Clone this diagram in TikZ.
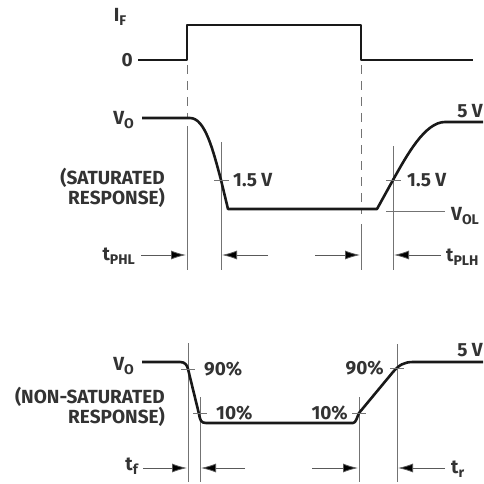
\documentclass[tikz,border=0pt]{standalone}
\usepackage{fontspec}
\setmainfont{Fira Sans}
\usetikzlibrary{arrows.meta}
\newcommand\lowtxt[1]{\raisebox{-0.4ex}{\fontsize{14}{14}\selectfont #1}}

\begin{document}
\begin{tikzpicture}[x=1pt,y=-1pt,line join=round]
	\fontsize{19}{18.5}\selectfont\bfseries
	\def \iftop{25}
	\def \ifzero{60}
	\def \sathigh{118}
	\def \satmid{180}
	\def \satlow{209}
	\def \sattime{255}
	\def \satfloor{270}
	\def \nshigh{362}
	\def \nsninety{369}
	\def \nsten{413}
	\def \nslow{423}
	\def \nstime{468}
	\def \nsfloor{482}

	\tikzstyle{signal}=[draw=black!90,line width=2.6pt]
	\tikzstyle{guide}=[draw=black!55,line width=0.8pt]
	\tikzstyle{edge-dash}=[guide,dash pattern=on 9pt off 7pt]
	\tikzstyle{tick}=[draw=black!55,line width=0.8pt]
	\tikzstyle{timing}=[draw=black!65,line width=0.8pt,-{Latex[length=15pt,width=9pt,fill=black]}]
	\tikzstyle{annot}=[text=black!80,inner sep=1pt]
	\tikzstyle{twoline}=[annot,align=right,anchor=east]

	\useasboundingbox (0,0) rectangle (483,484);

	% input current
	\node[annot] (if-label) at (120,17) {I\lowtxt{F}};
	\node[annot,anchor=east] (if-zero) at (134,\ifzero) {0};
	\coordinate (if-start) at (138,\ifzero);
	\draw[signal] (if-start) -- (187,\ifzero) -- (187,\iftop) -- (361,\iftop) -- (361,\ifzero) -- (473,\ifzero);

	% saturated response
	\node[annot,anchor=east] (vo-sat) at (135,120) {V\lowtxt{O}};
	\node[twoline] (sat-label) at (166,188) {(SATURATED\\RESPONSE)};
	\coordinate (sat-start) at (142,\sathigh);
	\draw[edge-dash] (187,65) -- (187,\sathigh);
	\draw[edge-dash] (361,65) -- (361,214);
	\draw[guide] (187,126) -- (187,\satfloor);
	\draw[guide] (221,142) -- (221,\satfloor);
	\draw[guide] (361,224) -- (361,\satfloor);
	\draw[guide] (393,146) -- (393,\satfloor);
	\draw[signal] (sat-start) -- (190,\sathigh)
		.. controls (205,\sathigh) and (213,150) .. (221,\satmid) -- (228,\satlow) -- (377,\satlow)
		-- (393,\satmid) .. controls (407,155) and (425,122) .. (445,122) -- (483,122);
	\draw[tick] (214,\satmid) -- (229,\satmid);
	\draw[tick] (386,\satmid) -- (401,\satmid);
	\draw[guide] (386,211) -- (445,211);
	\node[annot,anchor=west] (sat-fall) at (232,\satmid) {1.5 V};
	\node[annot,anchor=west] (sat-rise) at (406,\satmid) {1.5 V};
	\node[annot,anchor=east] (sat-five) at (484,111) {5 V};
	\node[annot,anchor=west] (vol) at (450,216) {V\lowtxt{OL}};
	% propagation delays
	\node[annot,anchor=east] (tphl) at (136,256) {t\lowtxt{PHL}};
	\node[annot,anchor=west] (tplh) at (445,257) {t\lowtxt{PLH}};
	\draw[timing] (141,\sattime) -- (186,\sattime);
	\draw[timing] (268,\sattime) -- (222,\sattime);
	\draw[timing] (315,\sattime) -- (360,\sattime);
	\draw[timing] (441,\sattime) -- (394,\sattime);

	% non-saturated response
	\node[annot,anchor=east] (vo-ns) at (135,366) {V\lowtxt{O}};
	\node[twoline] (ns-label) at (166,407) {(NON-SATURATED\\RESPONSE)};
	\coordinate (ns-start) at (142,\nshigh);
	\draw[guide] (188,343) -- (188,\nsfloor);
	\draw[guide] (200,397) -- (200,\nsfloor);
	\draw[guide] (359,397) -- (359,\nsfloor);
	\draw[guide] (397,344) -- (397,\nsfloor);
	\draw[signal] (ns-start) -- (180,\nshigh)
		.. controls (185,\nshigh) and (187,365) .. (188,\nsninety) -- (199,414)
		.. controls (200,420) and (201,\nslow) .. (206,\nslow) -- (353,\nslow)
		.. controls (356,\nslow) and (357,417) .. (359,\nsten) -- (393,372)
		.. controls (399,365) and (404,\nshigh) .. (413,\nshigh) -- (483,\nshigh);
	\draw[tick] (181,\nsninety) -- (195,\nsninety);
	\draw[tick] (193,\nsten) -- (207,\nsten);
	\draw[tick] (352,\nsten) -- (366,\nsten);
	\draw[tick] (390,368) -- (404,368);
	\node[annot,anchor=west] (ns-fall-hi) at (203,\nsninety) {90\%};
	\node[annot,anchor=west] (ns-fall-lo) at (215,\nsten) {10\%};
	\node[annot,anchor=east] (ns-rise-lo) at (349,\nsten) {10\%};
	\node[annot,anchor=east] (ns-rise-hi) at (385,368) {90\%};
	\node[annot,anchor=east] (ns-five) at (484,350) {5 V};
	% rise and fall times
	\node[annot,anchor=east] (tf) at (139,466) {t\lowtxt{f}};
	\node[annot,anchor=west] (tr) at (450,469) {t\lowtxt{r}};
	\draw[timing] (143,\nstime) -- (187,\nstime);
	\draw[timing] (245,\nstime) -- (201,\nstime);
	\draw[timing] (312,\nstime) -- (358,\nstime);
	\draw[timing] (445,\nstime) -- (398,\nstime);
\end{tikzpicture}
\end{document}
